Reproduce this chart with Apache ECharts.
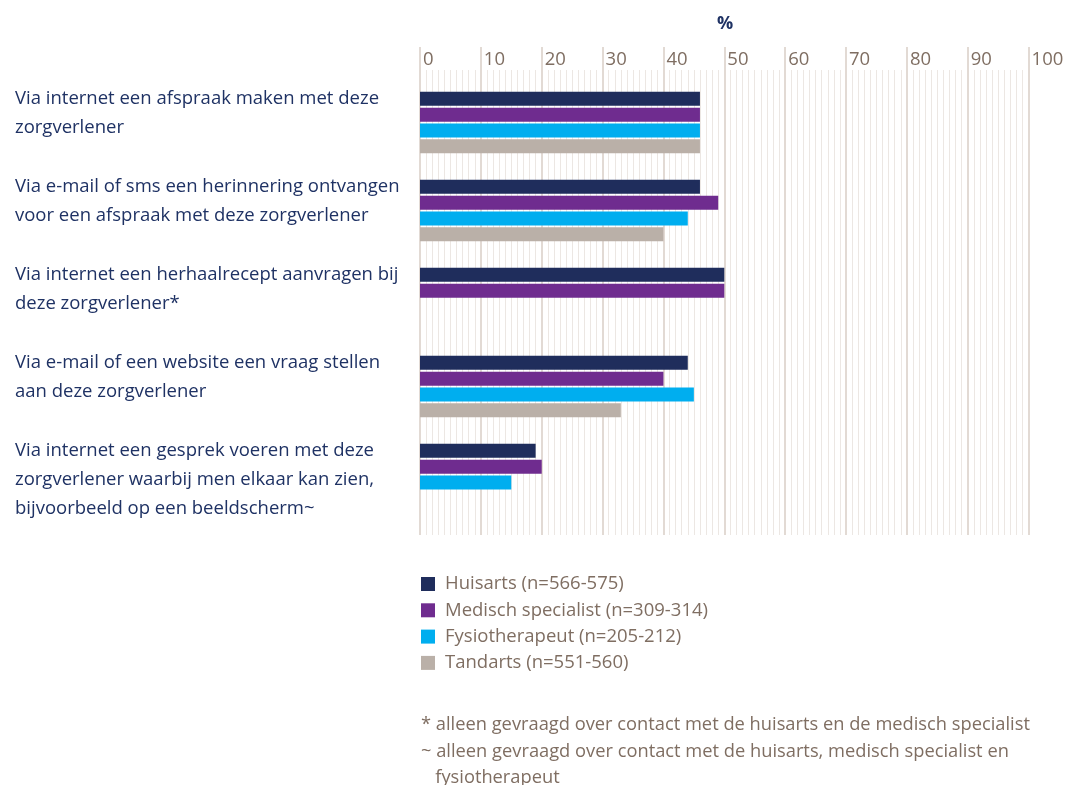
<!DOCTYPE html>
<html><head><meta charset="utf-8">
<script src="https://cdn.jsdelivr.net/npm/echarts@6/dist/echarts.min.js"></script>
<style>html,body{margin:0;padding:0;background:#fff}#c{width:1080px;height:785px}</style>
</head><body><div id="c"></div>
<script>
const categories = [
  'Via internet een afspraak maken met deze\nzorgverlener',
  'Via e-mail of sms een herinnering ontvangen\nvoor een afspraak met deze zorgverlener',
  'Via internet een herhaalrecept aanvragen bij\ndeze zorgverlener*',
  'Via e-mail of een website een vraag stellen\naan deze zorgverlener',
  'Via internet een gesprek voeren met deze\nzorgverlener waarbij men elkaar kan zien,\nbijvoorbeeld op een beeldscherm~'
];
const seriesNames = ['Huisarts (n=566-575)', 'Medisch specialist (n=309-314)', 'Fysiotherapeut (n=205-212)', 'Tandarts (n=551-560)'];
const huisarts = [46, 46, 50, 44, 19];
const medisch = [46, 49, 50, 40, 20];
const fysio = [46, 44, null, 45, 15];
const tandarts = [46, 40, null, 33, null];
const tickLabels = ['0','10','20','30','40','50','60','70','80','90','100'];
const axisTitle = '%';
const footnotes = [
  '* alleen gevraagd over contact met de huisarts en de medisch specialist',
  '~ alleen gevraagd over contact met de huisarts, medisch specialist en',
  '   fysiotherapeut'
];
const colors = ['#1f2d5c', '#6f2c8f', '#00aeef', '#bab0a8'];

const FONT = 'Open Sans';
const TXT = '#7f6e62';
const NAVY = '#1f3264';
const L = 420, W = 608.6;

const chart = echarts.init(document.getElementById('c'), null, {renderer: 'canvas'});
const allData = [huisarts, medisch, fysio, tandarts];
chart.setOption({
  animation: false,
  color: colors,
  textStyle: {fontFamily: FONT},
  title: [
    {text: axisTitle, left: 720, top: 10, textAlign: 'center',
     textStyle: {fontFamily: FONT, fontSize: 18, fontWeight: 'bold', color: NAVY}},
    {text: footnotes[0], left: 416, top: 711, textStyle: {fontFamily: FONT, fontSize: 18.3, fontWeight: 'normal', color: TXT}},
    {text: footnotes[1], left: 416, top: 738, textStyle: {fontFamily: FONT, fontSize: 18.3, fontWeight: 'normal', color: TXT}},
    {text: footnotes[2], left: 416, top: 764, textStyle: {fontFamily: FONT, fontSize: 18.3, fontWeight: 'normal', color: TXT}}
  ],
  legend: {
    orient: 'vertical', left: 421, top: 573, padding: 0, itemWidth: 14, itemHeight: 14, itemGap: 4.3,
    icon: 'rect', data: seriesNames,
    textStyle: {fontFamily: FONT, fontSize: 18.5, color: TXT, lineHeight: 22, padding: [0, 0, 0, 5]}
  },
  grid: [
    {left: L, width: W, top: 78.6, height: 440},
    {left: L, width: W, top: 70, height: 465},
    {left: L, width: W, top: 47, height: 23},
    {left: 5, width: 10, top: 40.5, height: 440}
  ],
  xAxis: [
    {gridIndex: 0, type: 'value', min: 0, max: 100, interval: 10,
     axisLine: {show: false}, axisTick: {show: false}, axisLabel: {show: false}, splitLine: {show: false}},
    {gridIndex: 1, type: 'value', min: 0, max: 100, interval: 10,
     axisLine: {show: false}, axisTick: {show: false}, axisLabel: {show: false},
     splitLine: {show: true, lineStyle: {color: '#d8cec6', width: 1.5}},
     minorTick: {show: false, splitNumber: 10},
     minorSplitLine: {show: true, lineStyle: {color: '#ece7e3', width: 1}}},
    {gridIndex: 2, type: 'value', min: 0, max: 100, interval: 10, position: 'bottom',
     axisLine: {show: false}, axisTick: {show: false},
     axisLabel: {show: true, inside: true, margin: 1, align: 'left', padding: [0, 0, 0, 3],
       formatter: (v) => tickLabels[Math.round(v / 10)],
       fontFamily: FONT, fontSize: 18.5, color: TXT},
     splitLine: {show: true, lineStyle: {color: '#d8cec6', width: 1.5}}},
    {gridIndex: 3, type: 'value', show: false}
  ],
  yAxis: [
    {gridIndex: 0, type: 'category', inverse: true, data: categories,
     axisLine: {show: false}, axisTick: {show: false}, axisLabel: {show: false}},
    {gridIndex: 1, type: 'category', data: ['a'], show: false},
    {gridIndex: 2, type: 'category', data: ['a'], show: false},
    {gridIndex: 3, type: 'category', inverse: true, data: categories, position: 'right',
     axisLine: {show: false}, axisTick: {show: false}, splitLine: {show: false},
     axisLabel: {show: true, margin: 0, align: 'left', verticalAlign: 'top', lineHeight: 29,
       fontFamily: FONT, fontSize: 18.5, color: NAVY}}
  ],
  series: seriesNames.map((n, i) => ({
    name: n, type: 'bar', xAxisIndex: 0, yAxisIndex: 0,
    data: allData[i], barWidth: 14, barGap: '13%',
    itemStyle: {color: colors[i]}
  }))
});
</script></body></html>
